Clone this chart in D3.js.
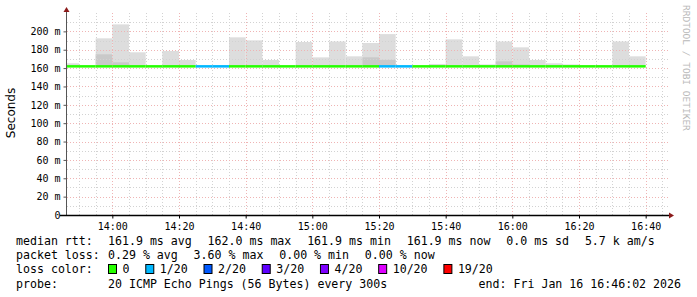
<!DOCTYPE html>
<html>
<head>
<meta charset="utf-8">
<script src="https://cdn.jsdelivr.net/npm/d3@7"></script>
<style>
  body { margin: 0; background: #fff; }
  svg { display: block; }
  text { font-family: "DejaVu Sans Mono", monospace; fill: #000; }
</style>
</head>
<body>
<div id="chart"></div>
<script>
// 5-minute steps, start time of each step
const stepStarts = ["13:45","13:50","13:55","14:00","14:05","14:10","14:15","14:20","14:25","14:30",
  "14:35","14:40","14:45","14:50","14:55","15:00","15:05","15:10","15:15","15:20",
  "15:25","15:30","15:35","15:40","15:45","15:50","15:55","16:00","16:05","16:10",
  "16:15","16:20","16:25","16:30","16:35"];
// median rtt in ms
const medianRtt = stepStarts.map(() => 161.9);
// top of the light smoke (max ping) in ms
const smokeMax = [165.2,161.9,192.4,207.6,177.2,161.9,178.6,168.8,161.9,163.0,
  193.5,190.2,168.8,161.9,188.4,171.7,189.0,172.8,187.3,197.0,
  162.7,161.9,164.5,191.3,172.8,164.0,189.0,182.6,168.8,165.2,
  164.0,162.7,162.7,189.0,172.8];
// top of the darker smoke band in ms
const smokeDark = [161.9,161.9,175.0,166.3,161.9,161.9,163.0,161.9,161.9,161.9,
  161.9,161.9,161.9,161.9,161.9,161.9,161.9,161.9,171.7,169.0,
  161.9,161.9,161.9,161.9,161.9,161.9,167.4,164.0,161.9,161.9,
  161.9,161.9,161.9,161.9,161.9];
// lost pings out of 20 per step
const lossCount = [0,0,0,0,0,0,0,0,1,1, 0,0,0,0,0,0,0,0,0,1, 1,0,0,0,0,0,0,0,0,0, 0,0,0,0,0];

const yTicks = [0,20,40,60,80,100,120,140,160,180,200];
const lossLevels = [0,1,2,3,4,10,19];
const lossLabels = ["0","1/20","2/20","3/20","4/20","10/20","19/20"];
const lossColors = ["#26ff00","#00b8ff","#0059ff","#5e00ff","#7e00ff","#dd00ff","#ff0000"];

const rttLabel = "median rtt:";
const rttItems = ["161.9 ms avg","162.0 ms max","161.9 ms min","161.9 ms now","0.0 ms sd","5.7 k am/s"];
const lossLabel = "packet loss:";
const lossItems = ["0.29 % avg","3.60 % max","0.00 % min","0.00 % now"];
const colorLabel = "loss color:";
const probeLabel = "probe:";
const probeText = "20 ICMP Echo Pings (56 Bytes) every 300s";
const endText = "end: Fri Jan 16 16:46:02 2026";

const width = 697, height = 297;
const plot = { left: 67, right: 667, top: 13, bottom: 215 };

const day = (hm, s) => { const p = hm.split(":"); return new Date(2026, 0, 16, +p[0], +p[1], s || 0); };
const steps = stepStarts.map((s, i) => ({
  t0: day(s), t1: new Date(day(s).getTime() + 300000),
  med: medianRtt[i], max: smokeMax[i], dark: smokeDark[i], loss: lossCount[i]
}));

const svg = d3.select("#chart").append("svg").attr("width", width).attr("height", height);

const x = d3.scaleTime().domain([day("13:46", 24), day("16:46", 24)]).range([plot.left, plot.right]);
const y = d3.scaleLinear().domain([0, 220]).range([plot.bottom, plot.top]);
const lossColor = d3.scaleThreshold().domain(lossLevels.slice(1)).range(lossColors);

svg.append("clipPath").attr("id", "plot-clip").append("rect")
  .attr("x", plot.left).attr("y", plot.top)
  .attr("width", plot.right - plot.left).attr("height", plot.bottom - plot.top);

// Smoke
const smoke = svg.append("g").attr("clip-path", "url(#plot-clip)");
smoke.selectAll(".light").data(steps).enter().append("rect")
  .attr("x", d => x(d.t0)).attr("width", d => x(d.t1) - x(d.t0))
  .attr("y", d => y(d.max)).attr("height", d => y(d.med) - y(d.max))
  .attr("fill", "#dddddd");
smoke.selectAll(".dark").data(steps).enter().append("rect")
  .attr("x", d => x(d.t0)).attr("width", d => x(d.t1) - x(d.t0))
  .attr("y", d => y(d.dark)).attr("height", d => y(d.med) - y(d.dark))
  .attr("fill", "#c9c9c9");

// Grid
const grid = svg.append("g").attr("stroke-dasharray", "1,2").attr("stroke-width", 1);
const minorT = d3.timeMinute.every(5).range(x.domain()[0], x.domain()[1]);
const majorT = d3.timeMinute.every(20).range(x.domain()[0], x.domain()[1]);
grid.selectAll(".vmin").data(minorT.filter(t => t.getMinutes() % 20 !== 0)).enter().append("line")
  .attr("x1", d => Math.round(x(d)) + 0.5).attr("x2", d => Math.round(x(d)) + 0.5)
  .attr("y1", plot.top).attr("y2", plot.bottom).attr("stroke", "#d2d2d2");
const minorY = d3.range(10, 221, 20);
grid.selectAll(".hmin").data(minorY).enter().append("line")
  .attr("x1", plot.left).attr("x2", plot.right + 1)
  .attr("y1", d => Math.round(y(d)) + 0.5).attr("y2", d => Math.round(y(d)) + 0.5)
  .attr("stroke", "#d2d2d2");
grid.selectAll(".vmaj").data(majorT).enter().append("line")
  .attr("x1", d => Math.round(x(d)) + 0.5).attr("x2", d => Math.round(x(d)) + 0.5)
  .attr("y1", plot.top).attr("y2", plot.bottom).attr("stroke", "#efb4b4");
grid.selectAll(".hmaj").data(yTicks.filter(v => v > 0)).enter().append("line")
  .attr("x1", plot.left).attr("x2", plot.right + 1)
  .attr("y1", d => Math.round(y(d)) + 0.5).attr("y2", d => Math.round(y(d)) + 0.5)
  .attr("stroke", "#efb4b4");

// Median line coloured by loss
svg.append("g").attr("clip-path", "url(#plot-clip)")
  .selectAll("line").data(steps).enter().append("line")
  .attr("x1", d => x(d.t0)).attr("x2", d => x(d.t1))
  .attr("y1", d => y(d.med)).attr("y2", d => y(d.med))
  .attr("stroke", d => lossColor(d.loss)).attr("stroke-width", 2.5);

// Axes
const yAxis = d3.axisLeft(y).tickValues(yTicks).tickSize(3).tickPadding(3)
  .tickFormat(d => d === 0 ? "0" : d + " m");
const gy = svg.append("g").attr("transform", "translate(" + (plot.left - 0.5) + ",0)").call(yAxis);
gy.select(".domain").remove();
gy.selectAll("text").attr("font-size", 10).attr("font-family", "DejaVu Sans Mono");
gy.selectAll("line").attr("stroke", "#555");

const xAxis = d3.axisBottom(x).ticks(d3.timeMinute.every(20)).tickSize(3).tickPadding(4)
  .tickFormat(d3.timeFormat("%H:%M"));
const gx = svg.append("g").attr("transform", "translate(0," + (plot.bottom + 0.5) + ")").call(xAxis);
gx.select(".domain").remove();
gx.selectAll("text").attr("font-size", 10).attr("font-family", "DejaVu Sans Mono");

svg.append("line").attr("x1", plot.left - 0.5).attr("x2", plot.left - 0.5)
  .attr("y1", plot.bottom).attr("y2", 9).attr("stroke", "#555").attr("stroke-width", 1);
svg.append("line").attr("x1", 60).attr("x2", plot.right + 3)
  .attr("y1", plot.bottom + 0.5).attr("y2", plot.bottom + 0.5).attr("stroke", "#000").attr("stroke-width", 1.5);
svg.append("path").attr("d", `M${plot.left - 3.5},12 L${plot.left - 0.5},7 L${plot.left + 2.5},12 Z`).attr("fill", "#8b1a1a");
svg.append("path").attr("d", `M${plot.right + 2},${plot.bottom - 2.5} L${plot.right + 7},${plot.bottom + 0.5} L${plot.right + 2},${plot.bottom + 3.5} Z`).attr("fill", "#8b1a1a");

// Y label
svg.append("text").attr("transform", "translate(15,113) rotate(-90)")
  .attr("text-anchor", "middle").attr("font-size", 12)
  .style("font-family", "'DejaVu Sans', sans-serif").text("Seconds");

// Watermark
svg.append("text").attr("transform", "translate(683,5) rotate(90)")
  .attr("font-size", 9.5).style("fill", "#b8b8b8").text("RRDTOOL / TOBI OETIKER");

// Legend
const legend = svg.append("g").attr("font-size", 11.6);
const col = 108, gap = 15.8;
const lineY = [245, 259, 273, 288];

function row(label, items, yy) {
  legend.append("text").attr("x", 16).attr("y", yy).text(label);
  let cx = col;
  items.forEach(s => {
    const t = legend.append("text").attr("x", cx).attr("y", yy).text(s);
    cx += t.node().getComputedTextLength() + gap;
  });
}
row(rttLabel, rttItems, lineY[0]);
row(lossLabel, lossItems, lineY[1]);

legend.append("text").attr("x", 16).attr("y", lineY[2]).text(colorLabel);
let cx = col;
lossLabels.forEach((s, i) => {
  legend.append("rect").attr("x", cx + 0.5).attr("y", lineY[2] - 8.5)
    .attr("width", 8).attr("height", 9)
    .attr("fill", lossColors[i]).attr("stroke", "#000").attr("stroke-width", 1);
  const t = legend.append("text").attr("x", cx + 14.5).attr("y", lineY[2]).text(s);
  cx += 14.5 + t.node().getComputedTextLength() + gap;
});

legend.append("text").attr("x", 16).attr("y", lineY[3]).text(probeLabel);
legend.append("text").attr("x", col).attr("y", lineY[3]).text(probeText);
legend.append("text").attr("x", 681).attr("y", lineY[3]).attr("text-anchor", "end").text(endText);
</script>
</body>
</html>
